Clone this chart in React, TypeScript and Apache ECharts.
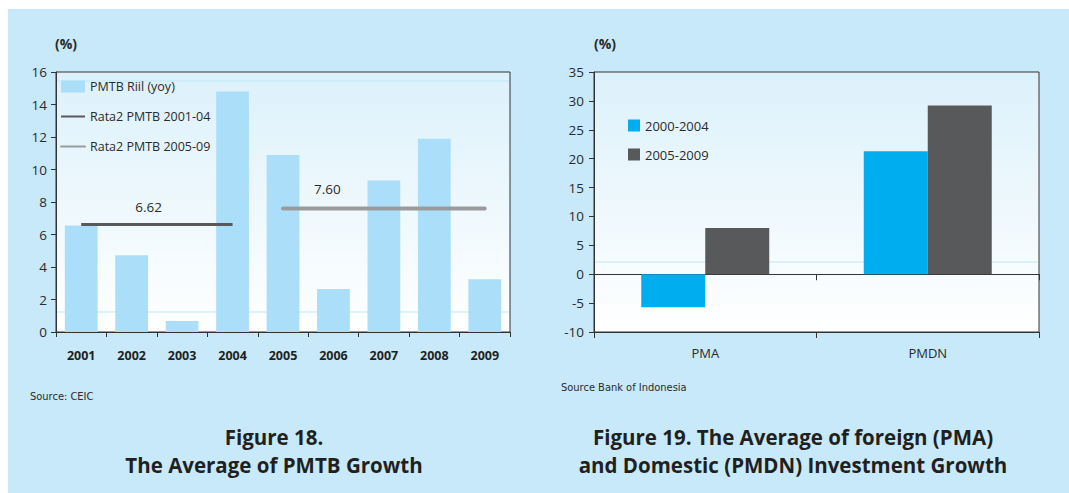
import React, { useEffect, useRef } from "react";
import * as echarts from "echarts";

// ---- Figure 18 data ----
const years = ["2001", "2002", "2003", "2004", "2005", "2006", "2007", "2008", "2009"];
const pmtbRiil = [6.56, 4.72, 0.67, 14.8, 10.9, 2.64, 9.33, 11.9, 3.25];
const avg2001to04 = [6.62, 6.62, 6.62, 6.62, null, null, null, null, null];
const avg2005to09 = [null, null, null, null, 7.6, 7.6, 7.6, 7.6, 7.6];
const leftYTicks = { min: 0, max: 16, interval: 2 };

// ---- Figure 19 data ----
const invCategories = ["PMA", "PMDN"];
const inv2000to04 = [-5.7, 21.3];
const inv2005to09 = [8.0, 29.2];
const rightYTicks = { min: -10, max: 35, interval: 5 };

const FONT = "'Open Sans', 'DejaVu Sans', sans-serif";
const NARROW = "'Liberation Sans Narrow', 'DejaVu Sans Condensed', sans-serif";
const TXT = "#2b2b2b";
const AXIS = "#333333";

function gridBg() {
  return new echarts.graphic.LinearGradient(0, 0, 0, 1, [
    { offset: 0, color: "#dcf1fb" },
    { offset: 1, color: "#ffffff" },
  ]);
}

export default function App() {
  const ref = useRef<HTMLDivElement>(null);

  useEffect(() => {
    if (!ref.current) return;
    const chart = echarts.init(ref.current, undefined, { renderer: "svg" });

    const titleFont = `bold 20.5px ${FONT}`;

    const option: any = {
      animation: false,
      textStyle: { fontFamily: FONT, color: TXT },
      graphic: [
        {
          type: "rect",
          z: -10,
          shape: { x: 8, y: 9, width: 1061, height: 484 },
          style: { fill: "#c7e9f9" },
          silent: true,
        },
        {
          type: "line",
          z: 1,
          shape: { x1: 57, y1: 81, x2: 509, y2: 81 },
          style: { stroke: "#bfe7f7", lineWidth: 1 },
          silent: true,
        },
        {
          type: "line",
          z: 1,
          shape: { x1: 57, y1: 312, x2: 509, y2: 312 },
          style: { stroke: "#bfe7f7", lineWidth: 1 },
          silent: true,
        },
        {
          type: "line",
          z: 1,
          shape: { x1: 595, y1: 262, x2: 1038, y2: 262 },
          style: { stroke: "#bfe7f7", lineWidth: 1 },
          silent: true,
        },
        {
          type: "text",
          x: 55,
          y: 43,
          style: { text: "(%)", font: `bold 14px ${FONT}`, fill: TXT, textVerticalAlign: "middle" },
        },
        {
          type: "text",
          x: 594,
          y: 43,
          style: { text: "(%)", font: `bold 14px ${FONT}`, fill: TXT, textVerticalAlign: "middle" },
        },
        {
          type: "text",
          x: 30,
          y: 396,
          style: { text: "Source: CEIC", font: `11px ${NARROW}`, fill: TXT, textVerticalAlign: "middle" },
        },
        {
          type: "text",
          x: 561,
          y: 387,
          style: { text: "Source Bank of Indonesia", font: `11px ${NARROW}`, fill: TXT, textVerticalAlign: "middle" },
        },
        {
          type: "text",
          x: 274,
          y: 437,
          style: { text: "Figure 18.", font: titleFont, fill: "#231f20", textAlign: "center", textVerticalAlign: "middle" },
        },
        {
          type: "text",
          x: 274,
          y: 465,
          style: { text: "The Average of PMTB Growth", font: titleFont, fill: "#231f20", textAlign: "center", textVerticalAlign: "middle" },
        },
        {
          type: "text",
          x: 793,
          y: 437,
          style: { text: "Figure 19. The Average of foreign (PMA)", font: titleFont, fill: "#231f20", textAlign: "center", textVerticalAlign: "middle" },
        },
        {
          type: "text",
          x: 793,
          y: 465,
          style: { text: "and Domestic (PMDN) Investment Growth", font: titleFont, fill: "#231f20", textAlign: "center", textVerticalAlign: "middle" },
        },
      ],
      legend: [
        {
          orient: "vertical",
          left: 60,
          top: 80,
          padding: 0,
          itemWidth: 24,
          itemHeight: 12,
          itemGap: 17,
          textStyle: { fontSize: 12.5, color: TXT, fontFamily: FONT },
          data: [
            { name: "PMTB Riil (yoy)", icon: "rect" },
            { name: "Rata2 PMTB 2001-04", itemStyle: { opacity: 0 } },
            { name: "Rata2 PMTB 2005-09", itemStyle: { opacity: 0 } },
          ],
        },
        {
          orient: "vertical",
          left: 628,
          top: 119,
          padding: 0,
          itemWidth: 12,
          itemHeight: 12,
          itemGap: 16,
          textStyle: { fontSize: 13, color: TXT, fontFamily: FONT },
          data: [
            { name: "2000-2004", icon: "rect" },
            { name: "2005-2009", icon: "rect" },
          ],
        },
      ],
      grid: [
        {
          left: 56,
          top: 72,
          width: 454,
          height: 260,
          show: true,
          backgroundColor: gridBg(),
          borderColor: AXIS,
          borderWidth: 1,
        },
        {
          left: 594,
          top: 72,
          width: 445,
          height: 260,
          show: true,
          backgroundColor: gridBg(),
          borderColor: AXIS,
          borderWidth: 1,
        },
      ],
      xAxis: [
        {
          gridIndex: 0,
          type: "category",
          data: years,
          axisLine: { lineStyle: { color: AXIS, width: 1 } },
          axisTick: { show: true, length: 5, lineStyle: { color: AXIS } },
          axisLabel: { fontSize: 12.5, fontWeight: "bold", color: "#231f20", margin: 17, fontFamily: FONT },
        },
        {
          gridIndex: 1,
          type: "category",
          data: invCategories,
          position: "bottom",
          axisLine: { onZero: true, lineStyle: { color: AXIS, width: 1 } },
          axisTick: { show: true, length: 6, lineStyle: { color: AXIS } },
          axisLabel: { show: false },
        },
        {
          gridIndex: 1,
          type: "category",
          data: invCategories,
          position: "bottom",
          axisLine: { onZero: false, lineStyle: { color: AXIS, width: 1 } },
          axisTick: { show: true, length: 6, lineStyle: { color: AXIS } },
          axisLabel: { fontSize: 13, color: TXT, margin: 14, fontFamily: FONT },
        },
      ],
      yAxis: [
        {
          gridIndex: 0,
          type: "value",
          min: leftYTicks.min,
          max: leftYTicks.max,
          interval: leftYTicks.interval,
          axisLine: { show: true, lineStyle: { color: AXIS, width: 1 } },
          axisTick: { show: true, length: 5, lineStyle: { color: AXIS } },
          axisLabel: { fontSize: 13.5, color: TXT, margin: 9, fontFamily: FONT },
          splitLine: { show: false },
        },
        {
          gridIndex: 1,
          type: "value",
          min: rightYTicks.min,
          max: rightYTicks.max,
          interval: rightYTicks.interval,
          axisLine: { show: true, lineStyle: { color: AXIS, width: 1 } },
          axisTick: { show: true, length: 5, lineStyle: { color: AXIS } },
          axisLabel: { fontSize: 13.5, color: TXT, margin: 10, fontFamily: FONT },
          splitLine: { show: false },
        },
      ],
      series: [
        {
          name: "PMTB Riil (yoy)",
          type: "bar",
          xAxisIndex: 0,
          yAxisIndex: 0,
          data: pmtbRiil,
          barWidth: "65%",
          itemStyle: { color: "#abdff9" },
          z: 2,
        },
        {
          name: "Rata2 PMTB 2001-04",
          type: "line",
          xAxisIndex: 0,
          yAxisIndex: 0,
          data: avg2001to04,
          symbol: "none",
          color: "#58595b",
          lineStyle: { color: "#58595b", width: 3 },
          z: 3,
          markPoint: {
            symbol: "circle",
            symbolSize: 0.1,
            label: {
              show: true,
              position: "top",
              distance: 10,
              offset: [17, 0],
              formatter: "6.62",
              fontSize: 13.5,
              color: TXT,
              fontFamily: FONT,
            },
            data: [{ coord: ["2002", 6.62] }],
          },
        },
        {
          name: "Rata2 PMTB 2005-09",
          type: "line",
          xAxisIndex: 0,
          yAxisIndex: 0,
          data: avg2005to09,
          symbol: "none",
          color: "#9a9b9d",
          lineStyle: { color: "#9a9b9d", width: 4, cap: "round" },
          z: 3,
          markPoint: {
            symbol: "circle",
            symbolSize: 0.1,
            label: {
              show: true,
              position: "top",
              distance: 12,
              offset: [-6, 0],
              formatter: "7.60",
              fontSize: 13.5,
              color: TXT,
              fontFamily: FONT,
            },
            data: [{ coord: ["2006", 7.6] }],
          },
        },
        {
          name: "2000-2004",
          type: "bar",
          xAxisIndex: 1,
          yAxisIndex: 1,
          data: inv2000to04,
          barWidth: 64,
          barGap: "0%",
          itemStyle: { color: "#00aeef" },
          z: 2,
        },
        {
          name: "2005-2009",
          type: "bar",
          xAxisIndex: 1,
          yAxisIndex: 1,
          data: inv2005to09,
          barWidth: 64,
          barGap: "0%",
          itemStyle: { color: "#58595b" },
          z: 2,
        },
      ],
    };

    chart.setOption(option);
    return () => chart.dispose();
  }, []);

  return (
    <div
      ref={ref}
      style={{ position: "absolute", left: 0, top: 0, width: 1069, height: 493 }}
    />
  );
}
